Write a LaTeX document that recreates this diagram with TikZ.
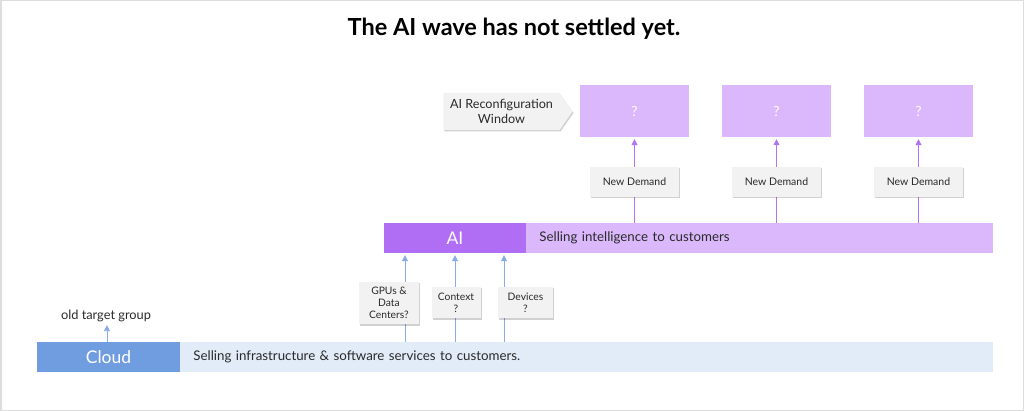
\documentclass[tikz,border=0pt]{standalone}
\usepackage{fontspec}
\setmainfont{Lato}
\usetikzlibrary{shapes.symbols,shadows,arrows.meta,backgrounds}
\definecolor{clouddark}{HTML}{6F9DE0}
\definecolor{cloudlight}{HTML}{E2EBF8}
\definecolor{aidark}{HTML}{B06EF5}
\definecolor{ailight}{HTML}{DAB8FB}
\definecolor{boxgray}{HTML}{F2F2F2}
\definecolor{bluearr}{HTML}{8AACE6}
\definecolor{purparr}{HTML}{B272F2}
\definecolor{framegray}{HTML}{DDDDDD}
\definecolor{txt}{HTML}{2A2A2A}
\begin{document}
\begin{tikzpicture}[x=1pt,y=-1pt,
  darkbox/.style={text=white, inner sep=0pt, font=\fontsize{17.5}{20}\selectfont},
  barbox/.style={minimum height=30pt, inner xsep=13pt, inner ysep=0pt, align=left, anchor=west, text=txt, font=\fontsize{13.3}{15}\selectfont},
  graybox/.style={fill=boxgray, text=txt, inner sep=0pt, align=center,
     drop shadow={shadow xshift=1pt, shadow yshift=-1.5pt, fill=black, opacity=0.18}},
  qbox/.style={fill=ailight, text=white, minimum width=109pt, minimum height=52pt, inner sep=0pt, font=\fontsize{14}{16}\selectfont},
  bluearrow/.style={draw=bluearr, line width=0.8pt, -{Triangle[width=6pt,length=6pt]}, shorten >=2pt},
  purparrow/.style={draw=purparr, line width=0.8pt, -{Triangle[width=6pt,length=6pt]}, shorten >=2pt},
]
\useasboundingbox (0,0) rectangle (1024,411);
\begin{scope}[on background layer]
\fill[white] (0,0) rectangle (1024,411);
\draw[framegray, line width=3pt] (0,0) rectangle (1024,411);
\end{scope}

% title
\node[font=\fontsize{23.5}{28}\bfseries\selectfont, text=black] (title) at (514,29) {The AI wave has not settled yet.};

% cloud layer
\node[darkbox, fill=clouddark, minimum width=143pt, minimum height=30pt] (cloud) at (108.5,357) {Cloud};
\node[barbox, fill=cloudlight, text width=787pt] (cloudbar) at (cloud.east) {Selling infrastructure \& software services to customers.};
\node[text=txt, font=\fontsize{12.8}{14}\selectfont, inner sep=1pt] (otg) at (106,316) {old target group};
\coordinate (c0) at (107,342);
\draw[bluearrow] (c0) -- (c0 |- otg.south);

% AI layer
\node[darkbox, fill=aidark, minimum width=142pt, minimum height=30pt] (ai) at (455,238) {AI};
\node[barbox, fill=ailight, text width=441pt] (aibar) at (ai.east) {Selling intelligence to customers};

% input boxes
\node[graybox, minimum width=60pt, minimum height=42pt, font=\fontsize{10.3}{12.2}\selectfont] (gpus) at (389,303) {GPUs \&\\Data\\Centers?};
\node[graybox, minimum width=49pt, minimum height=31pt, font=\fontsize{10.3}{12.2}\selectfont] (context) at (456,302.5) {Context\\?};
\node[graybox, minimum width=55pt, minimum height=31pt, font=\fontsize{10.3}{12.2}\selectfont] (devices) at (525.5,302.5) {Devices\\?};
\coordinate (b1) at (405,342);
\coordinate (b2) at (455,342);
\coordinate (b3) at (504,342);
\begin{scope}[on background layer]
\draw[bluearrow] (b1) -- (b1 |- ai.south);
\draw[bluearrow] (b2) -- (b2 |- ai.south);
\draw[bluearrow] (b3) -- (b3 |- aibar.south);
\end{scope}

% reconfiguration window
\node[graybox, signal, signal to=east, signal pointer angle=110, minimum width=129pt, minimum height=37pt, font=\fontsize{12.6}{15}\selectfont] (win) at (501.5,111.5) {AI Reconfiguration\\Window};

% question boxes
\node[qbox] (q1) at (634.5,111) {?};
\node[qbox] (q2) at (776.5,111) {?};
\node[qbox] (q3) at (918.5,111) {?};

% new demand
\node[graybox, minimum width=89pt, minimum height=30pt, font=\fontsize{10.5}{12}\selectfont] (nd1) at (634.5,182) {New Demand};
\node[graybox, minimum width=89pt, minimum height=30pt, font=\fontsize{10.5}{12}\selectfont] (nd2) at (776.5,182) {New Demand};
\node[graybox, minimum width=89pt, minimum height=30pt, font=\fontsize{10.5}{12}\selectfont] (nd3) at (918.5,182) {New Demand};
\begin{scope}[on background layer]
\draw[purparrow] (nd1 |- aibar.north) -- (q1.south);
\draw[purparrow] (nd2 |- aibar.north) -- (q2.south);
\draw[purparrow] (nd3 |- aibar.north) -- (q3.south);
\end{scope}
\end{tikzpicture}
\end{document}
